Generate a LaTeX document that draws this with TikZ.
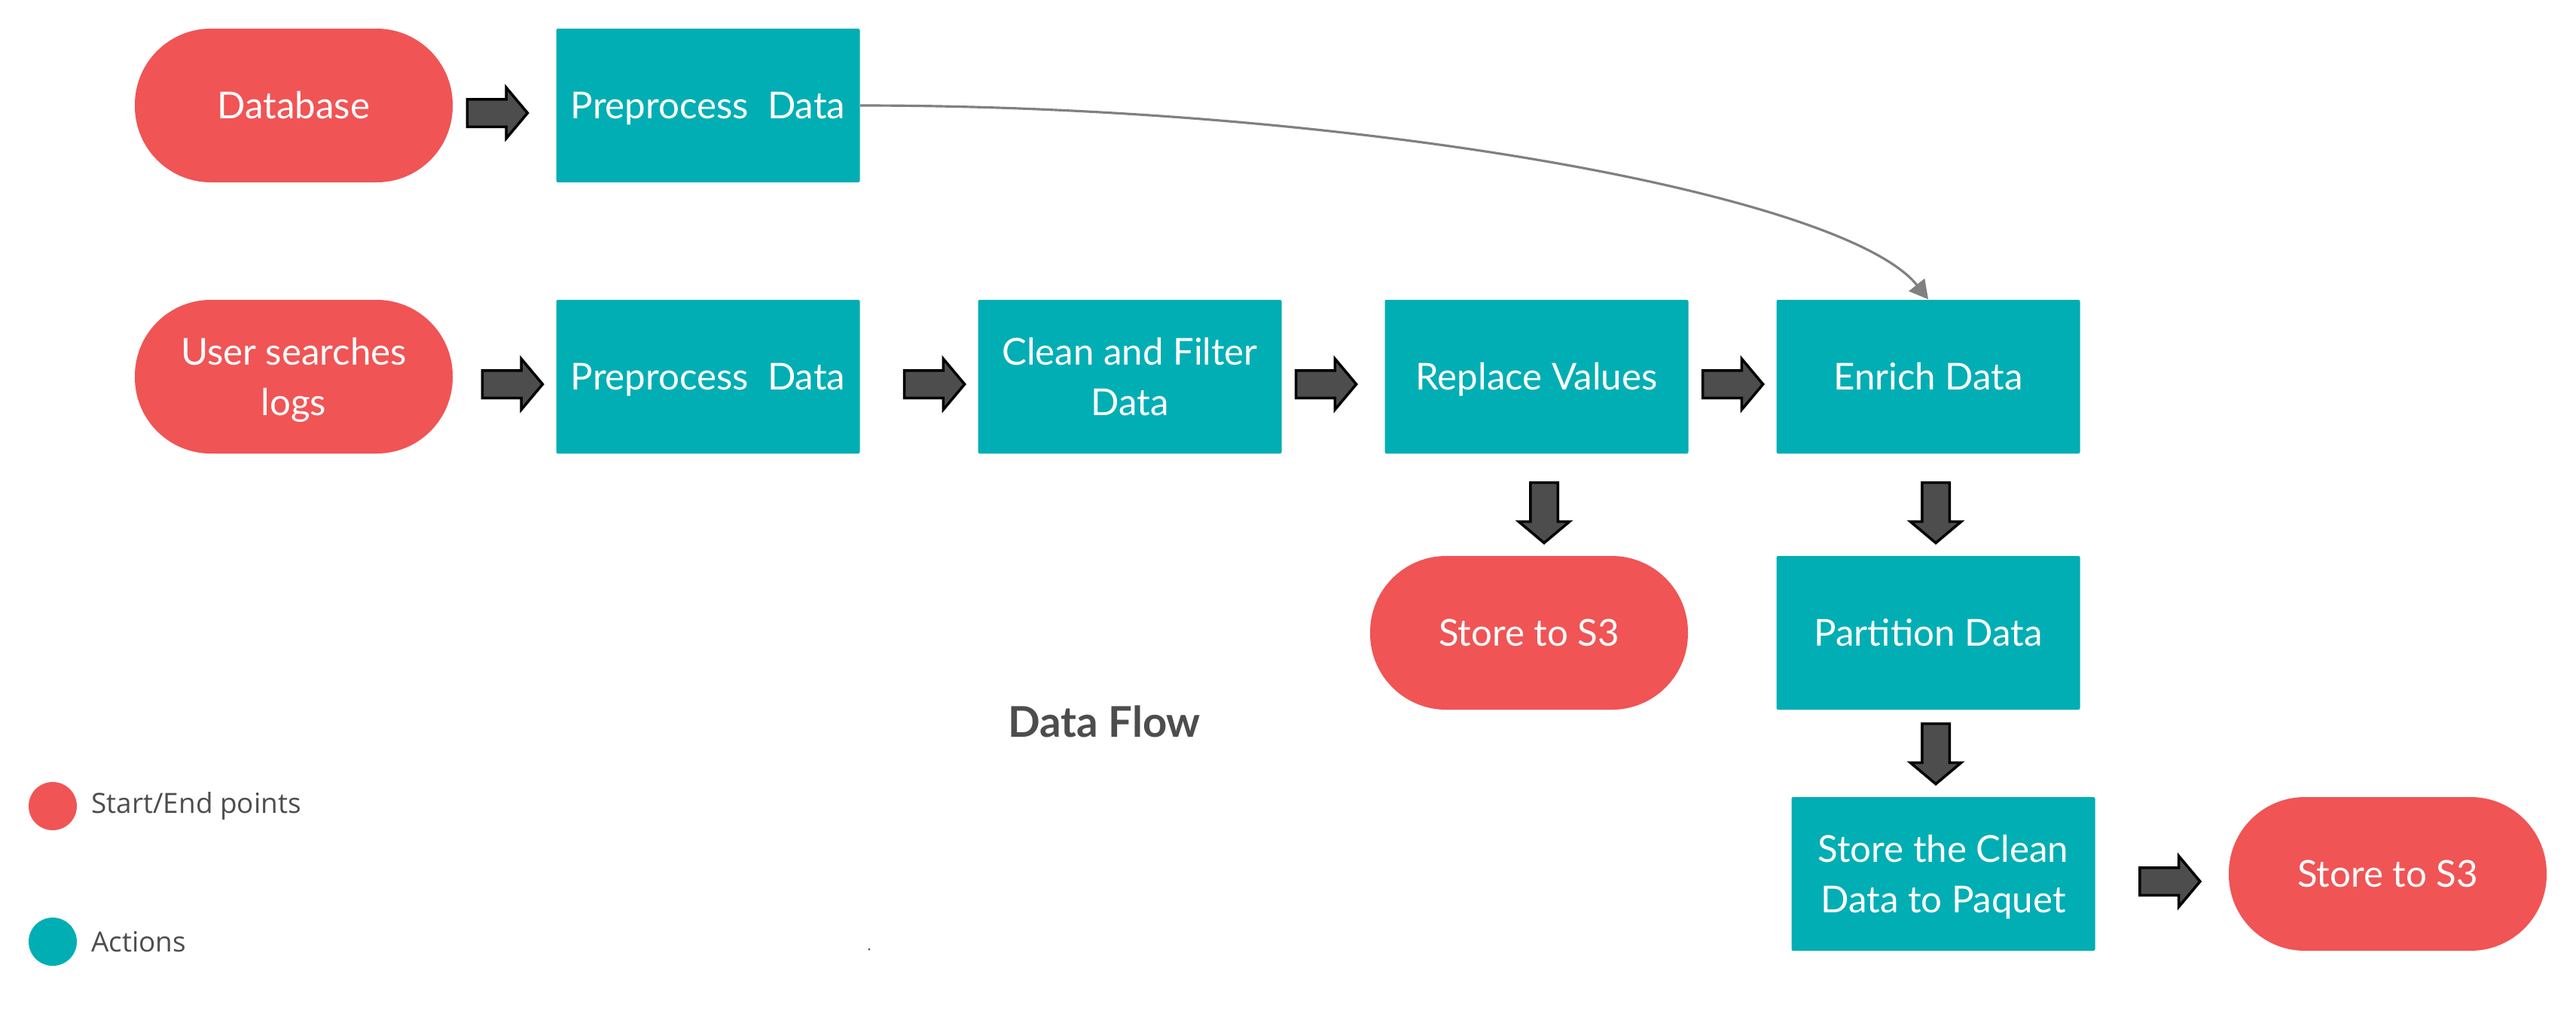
\documentclass[tikz,border=0pt]{standalone}
\usepackage{fontspec}
\setmainfont{Lato}
\newfontfamily\legendfont{Open Sans}
\usetikzlibrary{shapes.arrows, arrows.meta, calc, positioning}

\definecolor{startred}{HTML}{F05455}
\definecolor{actteal}{HTML}{00AEB4}
\definecolor{arrowgrey}{HTML}{4D4D4D}
\definecolor{labelgrey}{HTML}{4D4D4D}
\definecolor{curvegrey}{HTML}{808080}

\tikzset{
  terminal/.style={fill=startred, text=white, rounded corners=1.01cm,
    minimum width=4.22cm, minimum height=2.04cm, align=center,
    font=\fontsize{14}{19}\selectfont},
  action/.style={fill=actteal, text=white, rounded corners=0.6pt,
    minimum width=4.03cm, minimum height=2.04cm, align=center,
    font=\fontsize{14}{19}\selectfont},
  capline/.style={text height=0.35cm, text depth=0pt},
  nodescend/.style={text depth=0pt},
  flowarrow/.style={single arrow, draw=black, fill=arrowgrey, line width=1pt,
    inner xsep=0pt, inner ysep=0.165cm, minimum height=0.80cm,
    single arrow head extend=0.155cm, single arrow tip angle=100},
  downarrow/.style={flowarrow, rotate=-90},
  legenddot/.style={circle, inner sep=0pt, minimum size=0.64cm},
  legendtext/.style={text=labelgrey, font=\legendfont\fontsize{10.5}{12}\selectfont,
    anchor=west, inner sep=0pt}
}

\begin{document}
\begin{tikzpicture}
        \useasboundingbox (0,0) rectangle (34.20,-13.41);
        % Top row
        \node[terminal, capline] (db) at (3.90,-1.40) {Database};
        \node[action, capline] (pre1) at (9.40,-1.40) {Preprocess~~Data};
        % Main row
        \node[terminal, nodescend] (logs) at (3.90,-5.00) {User searches\\logs};
        \node[action, capline] (pre2) at (9.40,-5.00) {Preprocess~~Data};
        \node[action] (clean) at (15.00,-5.00) {Clean and Filter\\Data};
        \node[action, capline] (repl) at (20.40,-5.00) {Replace Values};
        \node[action, capline] (enrich) at (25.60,-5.00) {Enrich Data};
        % Branches below
        \node[terminal, capline] (s3a) at (20.30,-8.40) {Store to S3};
        \node[action, capline] (part) at (25.60,-8.40) {Partition Data};
        \node[action, nodescend] (parquet) at (25.80,-11.60) {Store the Clean\\Data to Paquet};
        \node[terminal, capline] (s3b) at (31.70,-11.60) {Store to S3};
        % Block arrows
        \foreach \a/\b/\dx in {db/pre1/-0.17, logs/pre2/0.03, pre2/clean/0.13,
            clean/repl/-0.17, repl/enrich/-0.07, parquet/s3b/0.03}
            \node[flowarrow] (arr-\a) at ($(\a.east)!.5!(\b.west)+(\dx,-0.1)$) {};
        \foreach \a/\b/\dx/\dy in {repl/s3a/0.15/-0.03, enrich/part/0.1/-0.03,
            part/parquet/0/0.07}
            \node[downarrow] (arr-\a) at ($(\a.south)!.5!(\b.north)+(\dx,\dy)$) {};
        % Curved link
        \draw[curvegrey, line width=0.9pt, -{Triangle[length=7pt,width=7.5pt]}]
            (pre1.east) .. controls +(6.59,0) and +(-1.10,1.38) .. (enrich.north);
        % Title
        \node[text=labelgrey, font=\bfseries\fontsize{16}{19}\selectfont] (title)
            at (14.66,-9.58) {Data Flow};
        % Legend
        \node[legenddot, fill=startred] (dotstart) at (0.70,-10.70) {};
        \node[legendtext, right=0.18cm of dotstart] (txtstart) {Start/End points};
        \node[legenddot, fill=actteal] (dotact) at (0.70,-12.50) {};
        \node[legendtext, right=0.18cm of dotact] (txtact) {Actions};
        \fill[labelgrey] (11.54,-12.60) circle (0.015);
    \end{tikzpicture}
\end{document}
